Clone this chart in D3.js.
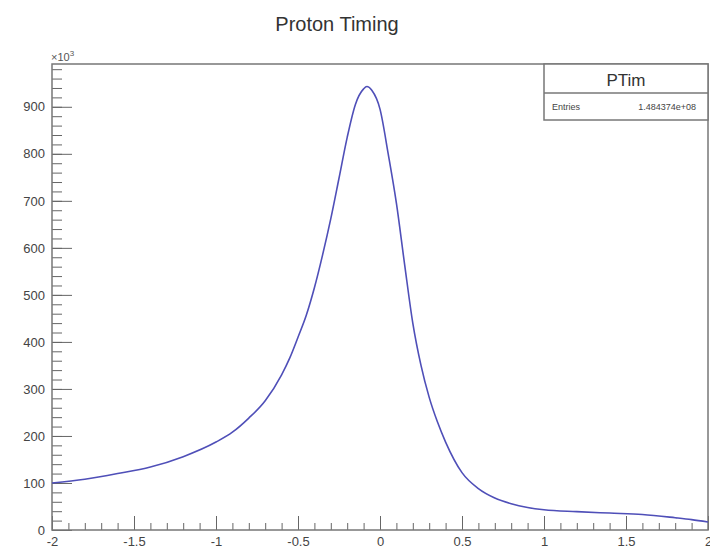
<!DOCTYPE html>
<html>
<head>
<meta charset="utf-8">
<script src="https://cdn.jsdelivr.net/npm/d3@7"></script>
<style>
  body { margin: 0; background: #fff; }
  text { font-family: "Liberation Sans", Arial, sans-serif; }
</style>
</head>
<body>
<svg id="chart" width="710" height="556"></svg>
<script>
// timing values (x) and counts in units of 10^3
const timeBins = [-2.0, -1.8, -1.6, -1.4, -1.2, -1.0, -0.9, -0.8, -0.7, -0.6, -0.55, -0.5,
  -0.45, -0.4, -0.35, -0.3, -0.25, -0.2, -0.15, -0.1, -0.08, -0.05, 0.0, 0.05, 0.1, 0.15,
  0.2, 0.25, 0.3, 0.35, 0.4, 0.5, 0.6, 0.7, 0.8, 0.9, 1.0, 1.2, 1.4, 1.6, 1.8, 1.9, 2.0];
const counts = [100, 108, 120, 134, 156, 187, 208, 238, 275, 330, 366, 410,
  456, 515, 585, 662, 748, 835, 905, 938, 943, 935, 895, 800, 695, 565,
  440, 350, 282, 230, 187, 122, 88, 68, 56, 48, 43, 39, 36, 33, 26, 22, 17];

const xTicks = [-2, -1.5, -1, -0.5, 0, 0.5, 1, 1.5, 2];
const xLabels = ["-2", "-1.5", "-1", "-0.5", "0", "0.5", "1", "1.5", "2"];
const yTicks = [0, 100, 200, 300, 400, 500, 600, 700, 800, 900];

const title = "Proton Timing";
const histName = "PTim";
const entriesLabel = "Entries";
const entriesValue = "1.484374e+08";

const margin = {top: 64, right: 2, bottom: 26, left: 52},
  width = 710 - margin.left - margin.right,
  height = 556 - margin.top - margin.bottom;

const svg = d3.select("#chart");
const g = svg.append("g")
  .attr("transform", "translate(" + margin.left + "," + margin.top + ")");

const x = d3.scaleLinear().domain([-2, 2]).range([0, width]);
const y = d3.scaleLinear().domain([0, 991]).range([height, 0]);

// minor ticks
const xMinor = d3.range(-20, 21).map(d => d / 10);
const yMinor = d3.range(0, 50).map(d => d * 20).filter(d => d < 991);

g.append("g")
  .attr("transform", "translate(0," + height + ")")
  .call(d3.axisBottom(x).tickValues(xMinor).tickSizeInner(-7).tickSizeOuter(0).tickFormat(""))
  .call(a => a.select(".domain").remove())
  .call(a => a.selectAll("line").attr("stroke", "#666"));

g.append("g")
  .call(d3.axisLeft(y).tickValues(yMinor).tickSizeInner(-10).tickSizeOuter(0).tickFormat(""))
  .call(a => a.select(".domain").remove())
  .call(a => a.selectAll("line").attr("stroke", "#666"));

// major ticks and labels
g.append("g")
  .attr("transform", "translate(0," + height + ")")
  .call(d3.axisBottom(x).tickValues(xTicks).tickSizeInner(-14).tickSizeOuter(0).tickPadding(7)
    .tickFormat((d, i) => xLabels[i]))
  .call(a => a.select(".domain").remove())
  .call(a => a.selectAll("line").attr("stroke", "#666"))
  .call(a => a.selectAll("text").attr("fill", "#444").style("font-size", "13px"));

g.append("g")
  .call(d3.axisLeft(y).tickValues(yTicks).tickSizeInner(-20).tickSizeOuter(0).tickPadding(7))
  .call(a => a.select(".domain").remove())
  .call(a => a.selectAll("line").attr("stroke", "#666"))
  .call(a => a.selectAll("text").attr("fill", "#444").style("font-size", "13px"));

// frame
g.append("rect")
  .attr("x", 0).attr("y", 0)
  .attr("width", width).attr("height", height)
  .attr("fill", "none")
  .attr("stroke", "#777")
  .attr("stroke-width", 1.5);

// histogram line
const line = d3.line()
  .x((d, i) => x(timeBins[i]))
  .y(d => y(d))
  .curve(d3.curveMonotoneX);

g.append("path")
  .datum(counts)
  .attr("fill", "none")
  .attr("stroke", "#4f4fb8")
  .attr("stroke-width", 1.6)
  .attr("d", line);

// exponent label
const ex = svg.append("text")
  .attr("x", margin.left - 1)
  .attr("y", margin.top - 3)
  .attr("fill", "#555")
  .style("font-size", "11px")
  .text("×10");
ex.append("tspan")
  .attr("dy", -5)
  .style("font-size", "8px")
  .text("3");

// title
svg.append("text")
  .attr("x", 337)
  .attr("y", 31)
  .attr("text-anchor", "middle")
  .attr("fill", "#333")
  .style("font-size", "20px")
  .text(title);

// stats box
const box = svg.append("g").attr("transform", "translate(544,64)");
box.append("rect")
  .attr("width", 164).attr("height", 56)
  .attr("fill", "#fff")
  .attr("stroke", "#777")
  .attr("stroke-width", 1.5);
box.append("line")
  .attr("x1", 0).attr("x2", 164)
  .attr("y1", 29).attr("y2", 29)
  .attr("stroke", "#777")
  .attr("stroke-width", 1.5);
box.append("text")
  .attr("x", 82).attr("y", 22)
  .attr("text-anchor", "middle")
  .attr("fill", "#333")
  .style("font-size", "17px")
  .text(histName);
box.append("text")
  .attr("x", 8).attr("y", 46)
  .attr("fill", "#444")
  .style("font-size", "9px")
  .text(entriesLabel);
box.append("text")
  .attr("x", 152).attr("y", 46)
  .attr("text-anchor", "end")
  .attr("fill", "#444")
  .style("font-size", "9px")
  .text(entriesValue);
</script>
</body>
</html>
